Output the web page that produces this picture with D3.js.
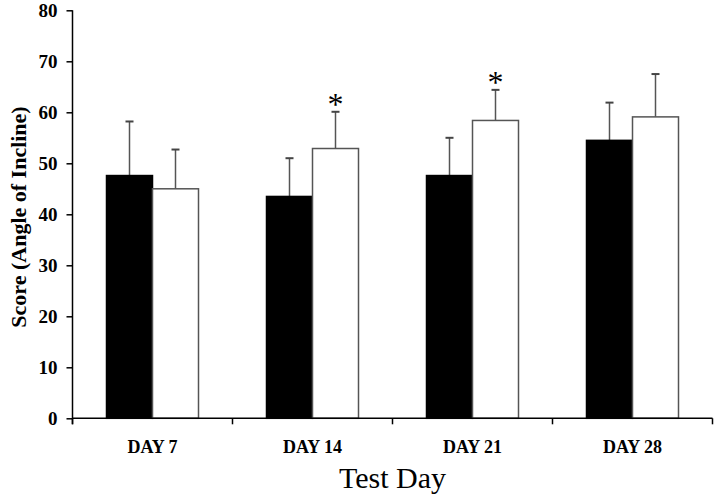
<!DOCTYPE html>
<html>
<head>
<meta charset="utf-8">
<script src="https://cdn.jsdelivr.net/npm/d3@7/dist/d3.min.js"></script>
<style>
html,body{margin:0;padding:0;background:#fff;}
svg{display:block;}
</style>
</head>
<body>
<svg id="chart" width="720" height="502"></svg>
<script>
const days = ["DAY 7", "DAY 14", "DAY 21", "DAY 28"];
const series = ["A", "B"];
const meansA = [47.6, 43.5, 47.6, 54.5];
const errA   = [10.6, 7.5, 7.4, 7.4];
const meansB = [45.0, 52.9, 58.4, 59.1];
const errB   = [7.7, 7.2, 6.0, 8.4];
const significant = [[false, false], [false, true], [false, true], [false, false]];
const yTicks = [0, 10, 20, 30, 40, 50, 60, 70, 80];

(function () {
const svg = d3.select("#chart");
const mLeft = 72.5, mRight = 712.5, mTop = 10.3, mBottom = 418.3;

const x0 = d3.scaleBand().domain(days).range([mLeft, mRight]).paddingInner(0.425).paddingOuter(0.2125);
const x1 = d3.scaleBand().domain(series).range([0, x0.bandwidth()]).padding(0);
const y = d3.scaleLinear().domain([0, 80]).range([mBottom, mTop]);

const data = days.map((d, i) => ({
  day: d,
  vals: [
    {s: "A", v: meansA[i], e: errA[i], sig: significant[i][0]},
    {s: "B", v: meansB[i], e: errB[i], sig: significant[i][1]}
  ]
}));

const serif = "'Liberation Serif','Times New Roman',serif";

const g = svg.append("g");
const groups = g.selectAll("g.grp").data(data).join("g")
  .attr("transform", d => `translate(${x0(d.day)},0)`);

groups.selectAll("g.err").data(d => d.vals).join("g").each(function(d) {
  const cx = x1(d.s) + x1.bandwidth() / 2;
  const el = d3.select(this);
  el.append("line").attr("x1", cx).attr("x2", cx)
    .attr("y1", y(d.v)).attr("y2", y(d.v + d.e))
    .attr("stroke", "#555").attr("stroke-width", 1.5);
  el.append("line").attr("x1", cx - 4).attr("x2", cx + 4)
    .attr("y1", y(d.v + d.e)).attr("y2", y(d.v + d.e))
    .attr("stroke", "#444").attr("stroke-width", 2);
  if (d.sig) {
    el.append("text").attr("x", cx).attr("y", y(d.v + d.e) + 3)
      .attr("text-anchor", "middle")
      .style("font-family", serif).style("font-size", "32px")
      .attr("fill", "#000").text("*");
  }
});

groups.selectAll("rect").data(d => d.vals).join("rect")
  .attr("x", d => x1(d.s))
  .attr("y", d => y(d.v))
  .attr("width", x1.bandwidth())
  .attr("height", d => y(0) - y(d.v))
  .attr("fill", d => d.s === "A" ? "#000" : "#fff")
  .attr("stroke", d => d.s === "A" ? "#000" : "#555")
  .attr("stroke-width", 1.5);

const yAxis = svg.append("g").attr("transform", `translate(${mLeft},0)`)
  .call(d3.axisLeft(y).tickValues(yTicks).tickSize(6).tickPadding(9).tickSizeOuter(0));
yAxis.select(".domain").remove();
yAxis.append("line").attr("x1", 0).attr("x2", 0).attr("y1", mTop).attr("y2", mBottom + 6)
  .attr("stroke", "#000").attr("stroke-width", 1.5);
yAxis.selectAll(".tick line").attr("stroke", "#000").attr("stroke-width", 1.5);
yAxis.selectAll(".tick text")
  .style("font-family", serif).style("font-size", "19px").style("font-weight", "bold").attr("fill", "#000");

const xAxis = svg.append("g").attr("transform", `translate(0,${mBottom})`)
  .call(d3.axisBottom(x0).tickSize(0).tickPadding(22));
xAxis.select(".domain").remove();
xAxis.append("line").attr("x1", mLeft).attr("x2", mRight).attr("y1", 0).attr("y2", 0)
  .attr("stroke", "#000").attr("stroke-width", 1.5);
const bounds = [mLeft].concat(days.map(d => x0(d) + x0.bandwidth() / 2 + x0.step() / 2));
xAxis.selectAll("line.bound").data(bounds).join("line").attr("class", "bound")
  .attr("x1", d => d).attr("x2", d => d).attr("y1", 0).attr("y2", 6)
  .attr("stroke", "#000").attr("stroke-width", 1.5);
xAxis.selectAll(".tick text")
  .style("font-family", serif).style("font-size", "18px").style("font-weight", "bold").attr("fill", "#000");

svg.append("text").attr("x", (mLeft + mRight) / 2).attr("y", 488)
  .attr("text-anchor", "middle")
  .style("font-family", serif).style("font-size", "30px").attr("fill", "#000")
  .text("Test Day");

svg.append("text").attr("transform", `translate(26,217) rotate(-90)`)
  .attr("text-anchor", "middle")
  .style("font-family", serif).style("font-size", "22px").style("font-weight", "bold").attr("fill", "#000")
  .text("Score (Angle of Incline)");
})();
</script>
</body>
</html>
